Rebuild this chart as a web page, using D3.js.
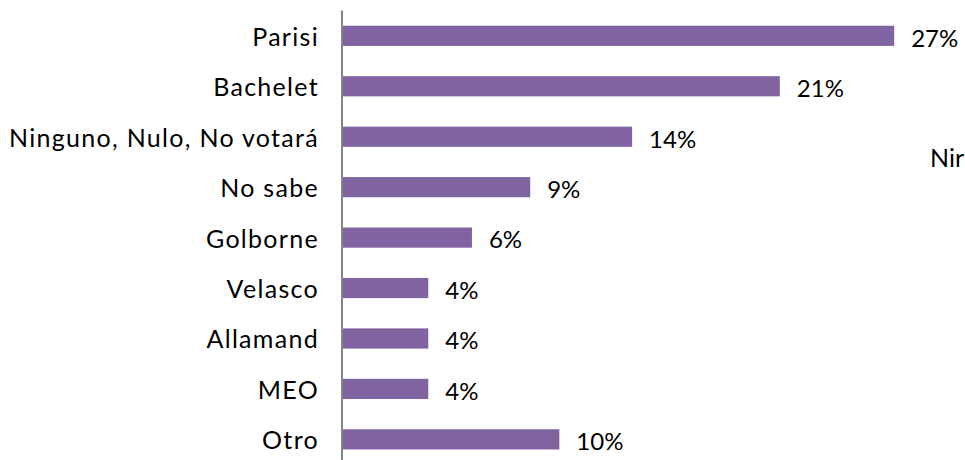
<!DOCTYPE html>
<html>
<head>
<meta charset="utf-8">
<script src="https://cdn.jsdelivr.net/npm/d3@7"></script>
<style>
  body { margin: 0; background: #fff; }
  svg { display: block; }
  .axis text { font-family: Lato, "Open Sans", sans-serif; font-size: 25px; letter-spacing: 1.3px; fill: #000; }
  .label { font-family: Lato, "Open Sans", sans-serif; font-size: 24px; fill: #000; }
</style>
</head>
<body>
<svg width="965" height="460"></svg>
<script>
var categories = ['Parisi', 'Bachelet', 'Ninguno, Nulo, No votará', 'No sabe', 'Golborne', 'Velasco', 'Allamand', 'MEO', 'Otro'];
var values = [26.5, 21.0, 13.9, 9.0, 6.2, 4.1, 4.1, 4.1, 10.4];

var svg = d3.select('svg');
var x0 = 343;

var data = categories.map(function (c, i) { return { name: c, value: values[i] }; });

var x = d3.scaleLinear()
    .domain([0, 30])
    .range([x0, x0 + 30 * 20.8]);

var y = d3.scaleBand()
    .domain(categories)
    .range([10.6, 464.6])
    .paddingInner(0.6)
    .paddingOuter(0.3);

// bars
svg.selectAll('rect.bar')
    .data(data)
    .enter()
    .append('rect')
    .attr('class', 'bar')
    .attr('x', x(0))
    .attr('y', function (d) { return y(d.name); })
    .attr('width', function (d) { return x(d.value) - x(0); })
    .attr('height', y.bandwidth())
    .attr('fill', '#8064A2');

// value labels
svg.selectAll('text.label')
    .data(data)
    .enter()
    .append('text')
    .attr('class', 'label')
    .attr('x', function (d) { return x(d.value) + 17; })
    .attr('y', function (d) { return y(d.name) + y.bandwidth() / 2; })
    .attr('dy', '0.45em')
    .text(function (d) { return Math.round(d.value) + '%'; });

// category axis
var yAxis = d3.axisLeft(y).tickSize(0).tickPadding(23).offset(0);
var ax = svg.append('g')
    .attr('class', 'axis')
    .attr('transform', 'translate(342,0)')
    .call(yAxis);
ax.select('.domain')
    .attr('stroke', '#868686')
    .attr('stroke-width', 2);
ax.selectAll('.tick text').attr('dy', '0.4em');

// legend fragment at the right edge
svg.append('text')
    .attr('class', 'label')
    .attr('x', 930)
    .attr('y', 167)
    .style('font-size', '25px')
    .text('Nir');
</script>
</body>
</html>
